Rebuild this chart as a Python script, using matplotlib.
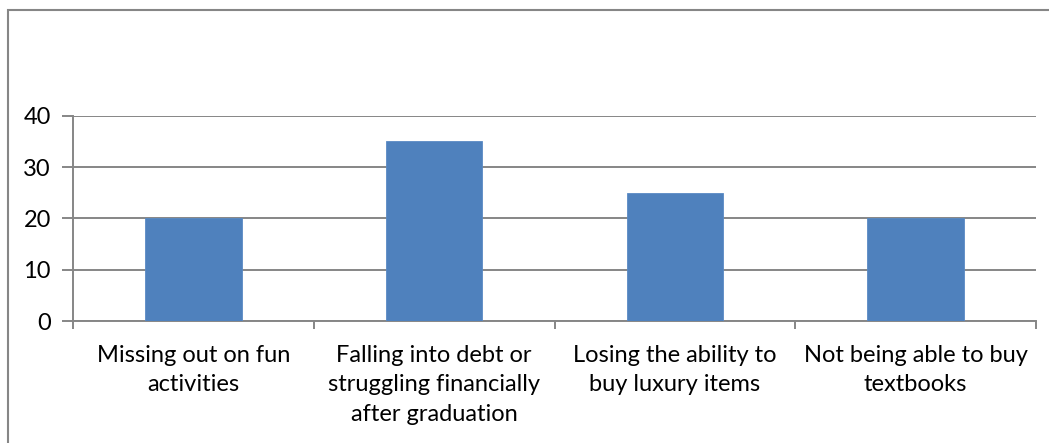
import numpy as np
import matplotlib.pyplot as plt
from matplotlib.patches import Rectangle

categories = [
    'Missing out on fun\nactivities',
    'Falling into debt or\nstruggling financially\nafter graduation',
    'Losing the ability to\nbuy luxury items',
    'Not being able to buy\ntextbooks',
]
values = [20, 35, 25, 20]
yticks = [0, 10, 20, 30, 40]

plt.rcParams['font.family'] = ['Lato', 'DejaVu Sans']
grey = '#868686'

fig = plt.figure(figsize=(10.49, 4.43), dpi=100)
W, H = 1049, 443
ax = fig.add_axes([73 / W, 1 - 321 / H, (1036 - 73) / W, (321 - 115.7) / H])

x = np.arange(len(categories))
ax.bar(x, values, width=0.4, color='#4F81BD', edgecolor='#5a8ac4', linewidth=0.6, zorder=3)

ax.set_xlim(-0.5, len(categories) - 0.5)
ax.set_ylim(0, 40)
ax.set_yticks(yticks)
ax.yaxis.grid(True, color=grey, linewidth=1.4, zorder=0)

ax.set_xticks(x)
ax.set_xticklabels(categories, fontsize=17, linespacing=1.5)
ax.set_xticks(np.arange(len(categories) + 1) - 0.5, minor=True)
ax.tick_params(axis='x', which='major', length=0, pad=17)
ax.tick_params(axis='x', which='minor', length=6, width=1.4, color=grey)
ax.tick_params(axis='y', length=8, width=1.4, color=grey, labelsize=17, pad=8)

for side in ['top', 'right']:
    ax.spines[side].set_visible(False)
for side in ['left', 'bottom']:
    ax.spines[side].set_color(grey)
    ax.spines[side].set_linewidth(1.4)

# outer chart frame
fig.patches.append(Rectangle((7.5 / W, -0.1), 1.2, 1.1 - 10.5 / H,
                             transform=fig.transFigure, fill=False,
                             edgecolor=grey, linewidth=1.5))

fig.savefig('out.png', dpi=100)
